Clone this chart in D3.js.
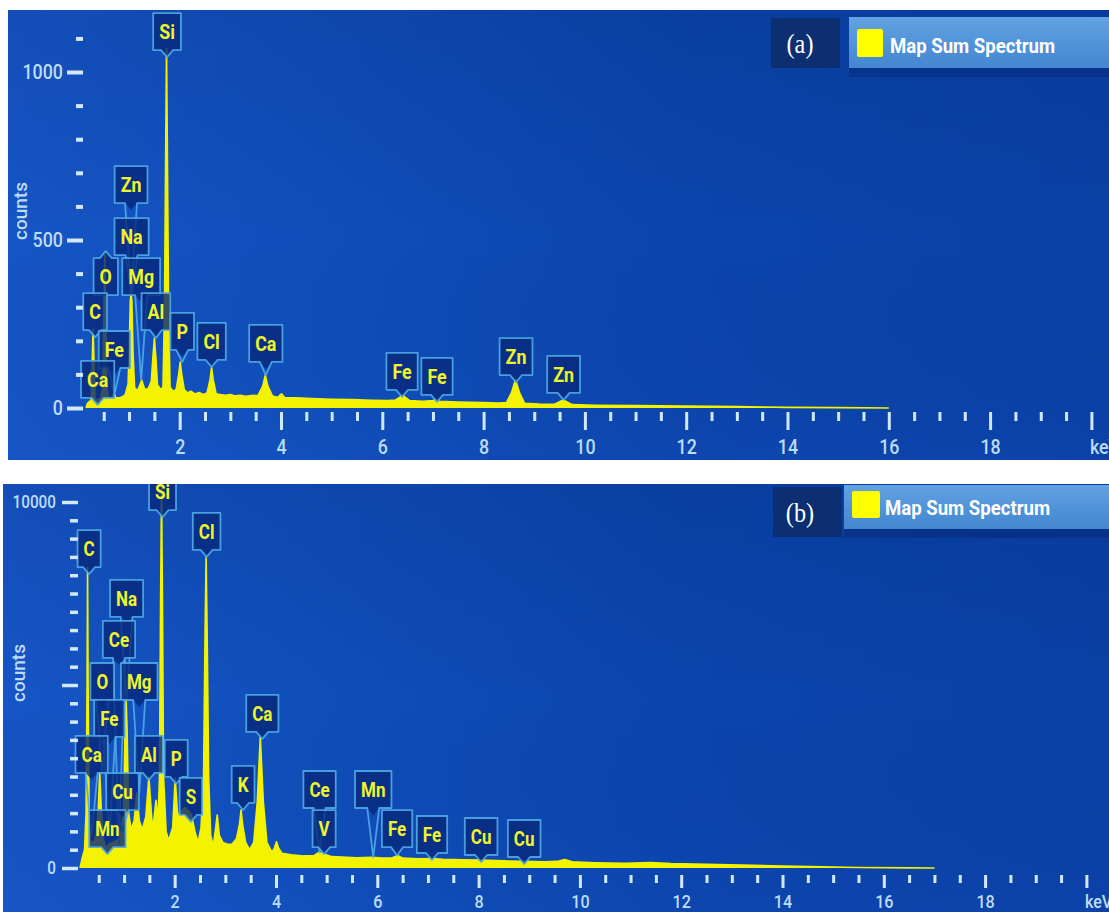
<!DOCTYPE html>
<html><head><meta charset="utf-8">
<script src="https://cdn.jsdelivr.net/npm/d3@7"></script>
<style>html,body{margin:0;padding:0;background:#fff;overflow:hidden}</style>
</head><body><script>
// ================= DATA =================
// EDS spectrum (a): [keV, counts]
const spectrumA = [[0.15,0],[0.18,14],[0.22,20],[0.25,22],[0.275,150],[0.29,235],[0.305,150],[0.33,24],[0.38,26],[0.44,28],[0.48,60],[0.50,250],[0.52,455],[0.54,250],[0.56,60],[0.60,28],[0.66,30],[0.70,45],[0.74,30],[0.82,30],[0.92,38],[0.98,70],[1.00,160],[1.025,320],[1.04,340],[1.055,320],[1.08,160],[1.11,60],[1.17,52],[1.25,83],[1.31,55],[1.38,58],[1.44,80],[1.47,150],[1.50,208],[1.53,150],[1.56,70],[1.62,55],[1.67,62],[1.70,300],[1.725,800],[1.74,1070],[1.755,800],[1.78,300],[1.81,62],[1.87,50],[1.93,55],[1.98,100],[2.01,137],[2.04,100],[2.09,55],[2.15,45],[2.22,50],[2.30,42],[2.38,46],[2.46,40],[2.54,45],[2.60,85],[2.63,122],[2.66,85],[2.72,42],[2.80,40],[2.90,38],[3.00,40],[3.10,36],[3.20,38],[3.30,35],[3.42,37],[3.55,38],[3.64,65],[3.69,98],[3.74,65],[3.83,36],[3.93,32],[4.01,42],[4.08,30],[4.30,30],[4.60,28],[5.00,26],[5.40,25],[5.80,23],[6.10,22],[6.26,24],[6.35,32],[6.40,38],[6.45,32],[6.54,22],[6.80,20],[7.00,22],[7.06,25],[7.12,20],[7.50,18],[8.00,16],[8.30,15],[8.45,16],[8.55,45],[8.63,85],[8.71,45],[8.81,14],[9.10,12],[9.40,11],[9.57,24],[9.75,10],[10.2,8],[11.0,7],[12.0,6],[13.0,4],[14.0,2],[15.0,1],[16.0,0]];
// EDS spectrum (b): [keV, counts]
const spectrumB = [[0.13,0],[0.18,300],[0.22,500],[0.25,1500],[0.27,5000],[0.28,8200],[0.29,5000],[0.31,1500],[0.34,700],[0.40,700],[0.45,900],[0.49,1600],[0.52,2600],[0.55,1600],[0.59,800],[0.64,550],[0.70,650],[0.78,700],[0.86,750],[0.93,850],[0.99,1500],[1.02,3800],[1.04,4600],[1.06,3800],[1.09,1500],[1.14,1050],[1.20,1300],[1.25,2050],[1.30,1300],[1.36,1050],[1.43,1400],[1.49,2500],[1.55,1300],[1.58,1200],[1.63,1850],[1.67,1300],[1.70,2500],[1.72,7000],[1.74,10400],[1.76,7000],[1.78,2500],[1.83,1000],[1.88,750],[1.96,1100],[2.01,2450],[2.06,1400],[2.12,1550],[2.20,1650],[2.28,1550],[2.33,1450],[2.40,1000],[2.46,700],[2.52,1100],[2.57,2500],[2.60,6500],[2.62,8500],[2.64,6500],[2.67,2500],[2.71,900],[2.76,600],[2.80,1000],[2.84,1450],[2.88,900],[2.95,700],[3.05,650],[3.13,650],[3.22,800],[3.28,1200],[3.31,1585],[3.34,1200],[3.40,700],[3.48,500],[3.56,700],[3.63,1800],[3.69,3580],[3.75,1800],[3.82,700],[3.92,430],[3.97,550],[4.01,720],[4.05,550],[4.12,400],[4.30,360],[4.55,330],[4.75,340],[4.84,420],[4.95,380],[5.10,310],[5.30,300],[5.60,280],[5.90,290],[6.10,270],[6.30,280],[6.40,340],[6.50,270],[6.80,250],[7.06,260],[7.30,240],[7.70,225],[8.05,220],[8.50,195],[8.90,185],[9.30,170],[9.55,180],[9.70,235],[9.85,170],[10.3,145],[10.9,130],[11.4,150],[11.8,120],[12.5,100],[13.2,80],[14.0,55],[14.8,30],[15.5,12],[16.5,3],[17.0,0]];
// Peak labels: [element, keV, box bottom level (counts), peak counts, pointer direction]
const labelsA = [["Si",1.75,1065,1070,"down"],["Zn",1.04,610,340,"down"],["Na",1.05,455,340,"down"],["O",0.54,336,455,"up"],["Mg",1.24,336,83,"down"],["C",0.33,232,235,"down"],["Al",1.53,232,208,"down"],["Fe",0.71,119,40,"down"],["P",2.05,173,137,"down"],["Cl",2.63,143,122,"down"],["Ca",3.70,137,98,"down"],["Ca",0.38,30,25,"down"],["Fe",6.39,54,38,"down"],["Fe",7.08,39,25,"down"],["Zn",8.64,98,85,"down"],["Zn",9.58,45,24,"down"]];
const labelsB = [["Si",1.76,9780,10400,"down"],["Cl",2.63,8690,8500,"down"],["C",0.31,8220,8200,"down"],["Na",1.05,6860,4600,"down"],["Ce",0.90,5740,700,"down"],["O",0.57,4590,2600,"down"],["Mg",1.30,4590,2050,"down"],["Fe",0.71,3580,900,"down"],["Ca",0.36,2600,900,"down"],["Al",1.49,2600,2500,"down"],["P",2.03,2490,2450,"down"],["S",2.32,1450,1400,"down"],["K",3.35,1780,1585,"down"],["Ca",3.73,3720,3580,"down"],["Cu",0.97,1580,1000,"down"],["Mn",0.67,570,500,"down"],["Ce",4.86,1640,420,"down"],["V",4.95,570,400,"down"],["Mn",5.92,1640,290,"down"],["Fe",6.39,570,340,"down"],["Fe",7.08,410,260,"down"],["Cu",8.05,355,220,"down"],["Cu",8.90,300,180,"down"]];
// Axis ticks
const keVMajor = [2,4,6,8,10,12,14,16,18,20];
const keVLabels = ["2","4","6","8","10","12","14","16","18","keV"];
const yMajorA = [0,500,1000], yLabelsA = ["0","500","1000"];
const yMajorB = [0,5000,10000], yLabelsB = ["0","","10000"];
const panelTags = ["(a)","(b)"];
const legendText = "Map Sum Spectrum";

// ================= LAYOUT =================
const W = 1109, H = 912, SX = 0.85;
const FONT = "Roboto, 'Open Sans', 'Noto Sans', sans-serif";
const svg = d3.select("body").append("svg").attr("width", W).attr("height", H).style("display","block");
svg.append("rect").attr("width", W).attr("height", H).attr("fill", "#fff");
const defs = svg.append("defs");
const bg = defs.append("linearGradient").attr("id","bg").attr("x1",0).attr("x2",1).attr("y1",0).attr("y2",0);
[[0,"#1655c6"],[0.25,"#104fbb"],[0.6,"#0b45ad"],[1,"#0a40a6"]].forEach(s=>bg.append("stop").attr("offset",s[0]).attr("stop-color",s[1]));
const bgv = defs.append("linearGradient").attr("id","bgv").attr("x1",0).attr("x2",0).attr("y1",0).attr("y2",1);
[[0,"rgba(0,10,60,0.10)"],[0.5,"rgba(0,10,60,0.0)"],[1,"rgba(40,90,200,0.08)"]].forEach(s=>bgv.append("stop").attr("offset",s[0]).attr("stop-color",s[1]));
const lgGrad = defs.append("linearGradient").attr("id","lg").attr("x1",0).attr("x2",0).attr("y1",0).attr("y2",1);
[[0,"#63a3e2"],[0.5,"#5194d9"],[1,"#4586d0"]].forEach(s=>lgGrad.append("stop").attr("offset",s[0]).attr("stop-color",s[1]));

const cfgA = {id:"A", bx:8, by:10, bw:1101, bh:450, x0:78.4, x20:1091.4, yBase:408, yRefVal:1000, yRefPx:72,
  yAxisX:83, yMajLen:16, yMinLen:7, yPad:4, yTickW:4, yFont:21, xAxisY:412, xMajLen:18, xMinLen:9, xPad:9, xTickW:3, xFont:21,
  labFont:21, boxH:37, countsX:20, countsY:211,
  tag:{x:771,y:18,w:69,h:50,tx:800,ty:44}, bar:{x:849,y:17,w:260,h:51}, sq:{x:857,y:29,w:26,h:28}, lt:{x:890,y:53}};
const cfgB = {id:"B", bx:3, by:484, bw:1106, bh:428, x0:73.4, x20:1086.4, yBase:868, yRefVal:10000, yRefPx:502,
  yAxisX:78, yMajLen:16, yMinLen:8, yPad:6, yTickW:3.5, yFont:18, xAxisY:875, xMajLen:13, xMinLen:8, xPad:7, xTickW:3, xFont:19,
  labFont:20, boxH:37, countsX:18, countsY:673,
  tag:{x:773,y:487,w:69,h:50,tx:800,ty:513}, bar:{x:844,y:485,w:265,h:44}, sq:{x:852,y:491,w:28,h:27}, lt:{x:885,y:515}};

function drawPanel(cfg, spectrum, labels, yMajor, yLabels, yMinor, tag) {
  const clipId = "clip" + cfg.id;
  defs.append("clipPath").attr("id", clipId).append("rect")
    .attr("x", cfg.bx).attr("y", cfg.by).attr("width", cfg.bw).attr("height", cfg.bh);
  const root = svg.append("g").attr("clip-path", `url(#${clipId})`);
  root.append("rect").attr("x", cfg.bx).attr("y", cfg.by).attr("width", cfg.bw).attr("height", cfg.bh).attr("fill", "url(#bg)");
  root.append("rect").attr("x", cfg.bx).attr("y", cfg.by).attr("width", cfg.bw).attr("height", cfg.bh).attr("fill", "url(#bgv)");

  const x = d3.scaleLinear().domain([0, 20]).range([cfg.x0, cfg.x20]);
  const y = d3.scaleLinear().domain([0, cfg.yRefVal]).range([cfg.yBase, cfg.yRefPx]);

  // spectrum
  root.append("path").datum(spectrum)
    .attr("d", d3.area().x(d => x(d[0])).y0(y(0)).y1(d => y(d[1])))
    .attr("fill", "#f3f300");
  root.append("path").datum(spectrum)
    .attr("d", d3.line().x(d => x(d[0])).y(d => y(d[1])))
    .attr("fill", "none").attr("stroke", "#f3f300").attr("stroke-width", 1.6).attr("stroke-linejoin","round");

  // labels
  const lg = root.append("g");
  const PTR = 7, PW = 6, BH = cfg.boxH;
  const items = labels.map(([el, kev, level, peak, dir]) => ({el, kev, level, peak, dir}));
  items.forEach(d => {
    const t = lg.append("text").attr("font-family", FONT).attr("font-weight", 700).attr("font-size", cfg.labFont).text(d.el);
    d.tw = t.node().getComputedTextLength() * SX; t.remove();
    d.w = d.tw + 12; d.cx = x(d.kev); d.yb = y(d.level); d.yt = d.yb - BH; d.py = y(d.peak);
  });
  items.forEach(d => {
    const x0 = d.cx - d.w/2, x1 = d.cx + d.w/2;
    let fillP, lineP;
    if (d.dir === "down") {
      const tip = Math.max(d.yb + PTR, d.py);
      fillP = `M${x0},${d.yt}H${x1}V${d.yb}H${d.cx+PW}L${d.cx},${d.yb+PTR}L${d.cx-PW},${d.yb}H${x0}Z`;
      lineP = `M${x0},${d.yt}H${x1}V${d.yb}H${d.cx+PW}L${d.cx},${tip}L${d.cx-PW},${d.yb}H${x0}Z`;
    } else {
      const tip = d.yt - PTR;
      fillP = `M${x0},${d.yt}H${d.cx-PW}L${d.cx},${tip}L${d.cx+PW},${d.yt}H${x1}V${d.yb}H${x0}Z`;
      lineP = fillP;
    }
    lg.append("path").attr("d", fillP).attr("fill", "#07287a").attr("fill-opacity", 0.8);
    lg.append("path").attr("d", lineP).attr("fill", "none").attr("stroke", "#4faae6").attr("stroke-width", 1.8).attr("stroke-linejoin","round").attr("stroke-opacity",0.9);
    lg.append("text").attr("transform", `translate(${d.cx},${d.yb - BH/2}) scale(${SX},1)`)
      .attr("text-anchor", "middle").attr("dy", "0.36em")
      .attr("font-family", FONT).attr("font-weight", 700).attr("font-size", cfg.labFont)
      .attr("fill", "#eef52a").text(d.el);
  });

  // axes
  const tickCol = "#d2e9fd", labCol = "#bcdcf8";
  const styleAxis = (ga, w) => {
    ga.select(".domain").remove();
    ga.selectAll("line").attr("stroke", tickCol).attr("stroke-width", w);
  };
  const gyMin = root.append("g").attr("transform", `translate(${cfg.yAxisX},0)`)
    .call(d3.axisLeft(y).tickValues(yMinor).tickSize(cfg.yMinLen).tickFormat(""));
  styleAxis(gyMin, cfg.yTickW);
  const gyMaj = root.append("g").attr("transform", `translate(${cfg.yAxisX},0)`)
    .call(d3.axisLeft(y).tickValues(yMajor).tickSize(cfg.yMajLen).tickPadding(cfg.yPad).tickFormat((d,i) => yLabels[i]));
  styleAxis(gyMaj, cfg.yTickW);
  gyMaj.selectAll("text").attr("fill", labCol).attr("font-family", FONT).attr("font-weight", 500).attr("font-size", cfg.yFont)
    .each(function(){ const t = d3.select(this); t.attr("x", (+t.attr("x"))/SX).attr("transform", `scale(${SX},1)`); });

  const keVMinor = d3.range(0.5, 20, 0.5).filter(v => v % 2 !== 0);
  const gxMin = root.append("g").attr("transform", `translate(0,${cfg.xAxisY})`)
    .call(d3.axisBottom(x).tickValues(keVMinor).tickSize(cfg.xMinLen).tickFormat(""));
  styleAxis(gxMin, cfg.xTickW);
  const gxMaj = root.append("g").attr("transform", `translate(0,${cfg.xAxisY})`)
    .call(d3.axisBottom(x).tickValues(keVMajor).tickSize(cfg.xMajLen).tickPadding(cfg.xPad).tickFormat((d,i) => keVLabels[i]));
  styleAxis(gxMaj, cfg.xTickW);
  gxMaj.selectAll("text").attr("fill", labCol).attr("font-family", FONT).attr("font-weight", 500).attr("font-size", cfg.xFont)
    .attr("transform", `scale(${SX},1)`)
    .filter(d => d === 20).attr("text-anchor", "start").attr("x", -2/SX);

  root.append("text").attr("transform", `translate(${cfg.countsX},${cfg.countsY}) rotate(-90)`)
    .attr("text-anchor", "middle").attr("dy", "0.35em")
    .attr("font-family", FONT).attr("font-weight", 500).attr("font-size", 19).attr("fill", labCol).text("counts");

  // legend
  const L = root.append("g");
  L.append("rect").attr("x", cfg.bar.x).attr("y", cfg.bar.y + cfg.bar.h).attr("width", cfg.bar.w).attr("height", 9).attr("fill", "rgba(0,15,70,0.22)");
  L.append("rect").attr("x", cfg.tag.x).attr("y", cfg.tag.y).attr("width", cfg.tag.w).attr("height", cfg.tag.h).attr("fill", "#0b2f70");
  L.append("text").attr("transform", `translate(${cfg.tag.tx},${cfg.tag.ty}) scale(0.9,1)`)
    .attr("text-anchor", "middle").attr("dy", "0.35em")
    .attr("font-family", "'Liberation Serif', 'Times New Roman', serif").attr("font-size", 27).attr("fill", "#fff").text(tag);
  L.append("rect").attr("x", cfg.bar.x).attr("y", cfg.bar.y).attr("width", cfg.bar.w).attr("height", cfg.bar.h).attr("fill", "url(#lg)");
  L.append("rect").attr("x", cfg.sq.x).attr("y", cfg.sq.y).attr("width", cfg.sq.w).attr("height", cfg.sq.h).attr("rx", 2).attr("fill", "#ffff00");
  L.append("text").attr("x", cfg.lt.x).attr("y", cfg.lt.y)
    .attr("font-family", FONT).attr("font-weight", 700).attr("font-size", 21)
    .attr("textLength", 165).attr("lengthAdjust", "spacingAndGlyphs")
    .attr("fill", "#ffffff").text(legendText);
}

const yMinorA = d3.range(100, 1101, 100).filter(v => !yMajorA.includes(v));
const yMinorB = d3.range(500, 10001, 500).filter(v => !yMajorB.includes(v));
drawPanel(cfgA, spectrumA, labelsA, yMajorA, yLabelsA, yMinorA, panelTags[0]);
drawPanel(cfgB, spectrumB, labelsB, yMajorB, yLabelsB, yMinorB, panelTags[1]);
</script></body></html>
